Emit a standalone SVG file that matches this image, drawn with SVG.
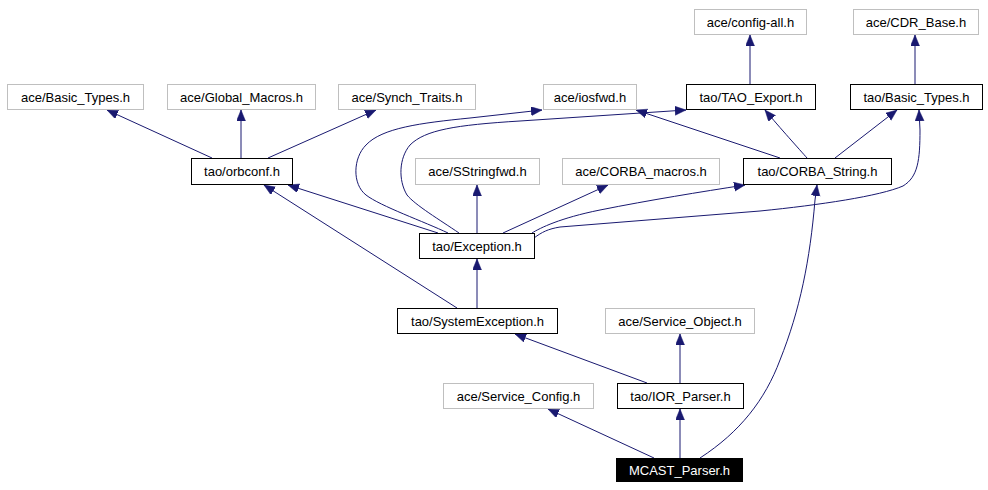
<svg xmlns="http://www.w3.org/2000/svg" width="988" height="490" viewBox="0 0 988 490">
<defs>
<marker id="arr" markerUnits="userSpaceOnUse" markerWidth="12" markerHeight="10" refX="11" refY="4.5" orient="auto">
<path d="M0,0 L11,4.5 L0,9 z" fill="#191970" stroke="#191970" stroke-width="0.5"/>
</marker>
<style>
.n rect{fill:#fff;stroke:#000;stroke-width:1}
.g rect{stroke:#bfbfbf}
.n text{font-family:"Liberation Sans",Arial,sans-serif;font-size:13px;text-anchor:middle;fill:#000}
.m rect{fill:#000;stroke:#000}
.m text{fill:#fff}
#edges path{fill:none;stroke:#191970;stroke-width:1;marker-end:url(#arr)}
</style>
</defs>
<rect width="988" height="490" fill="#fff"/>
<g id="edges">
<path d="M212,158 L107,110"/>
<path d="M241,158 L241,110"/>
<path d="M268,158 L376,110"/>
<path d="M438,233 L288,185"/>
<path d="M457,308 L264,185"/>
<path d="M448,233 C425,222 380,206 366,195 C352,184 353,158 366,145 C382,128 420,123 470,118 L542,110"/>
<path d="M459,233 C440,220 415,205 407,195 C398,180 399,158 410,145 C425,130 455,125 520,121 L686,110"/>
<path d="M477,233 L477,185"/>
<path d="M503,233 L608,185"/>
<path d="M532,233 C540,228 560,218 600,210 C650,200 700,192 745,185"/>
<path d="M534,238 C542,232 548,229 560,227 L760,211 C820,205 880,196 903,186 C918,177 920,160 920,130 L919,110"/>
<path d="M780,158 L636,110"/>
<path d="M807,158 C800,150 780,128 765,110"/>
<path d="M835,158 L897,110"/>
<path d="M750,84 L750,35"/>
<path d="M915,84 L915,35"/>
<path d="M477,308 L477,259"/>
<path d="M647,383 L515,334"/>
<path d="M680,383 L680,334"/>
<path d="M654,458 L548,409"/>
<path d="M680,458 L680,409"/>
<path d="M700,458 C740,432 765,400 780,360 C800,310 810,260 815,200 L817,185"/>
</g>
<g id="n_ace_basic_types" class="n g"><rect x="7.5" y="84.5" width="136" height="25"/><text x="75.5" y="101.5">ace/Basic_Types.h</text></g>
<g id="n_global_macros" class="n g"><rect x="167.5" y="84.5" width="148" height="25"/><text x="241.5" y="101.5">ace/Global_Macros.h</text></g>
<g id="n_synch_traits" class="n g"><rect x="338.5" y="84.5" width="137" height="25"/><text x="407" y="101.5">ace/Synch_Traits.h</text></g>
<g id="n_iosfwd" class="n g"><rect x="543.5" y="84.5" width="93" height="25"/><text x="590" y="101.5">ace/iosfwd.h</text></g>
<g id="n_tao_export" class="n"><rect x="686.5" y="84.5" width="129" height="25"/><text x="751" y="101.5">tao/TAO_Export.h</text></g>
<g id="n_tao_basic_types" class="n"><rect x="850.5" y="84.5" width="132" height="25"/><text x="916.5" y="101.5">tao/Basic_Types.h</text></g>
<g id="n_config_all" class="n g"><rect x="694.5" y="9.5" width="112" height="25"/><text x="750.5" y="26.5">ace/config-all.h</text></g>
<g id="n_cdr_base" class="n g"><rect x="853.5" y="9.5" width="125" height="25"/><text x="916" y="26.5">ace/CDR_Base.h</text></g>
<g id="n_orbconf" class="n"><rect x="191.5" y="158.5" width="101" height="26"/><text x="242" y="176">tao/orbconf.h</text></g>
<g id="n_sstringfwd" class="n g"><rect x="415.5" y="158.5" width="124" height="26"/><text x="477.5" y="176">ace/SStringfwd.h</text></g>
<g id="n_corba_macros" class="n g"><rect x="562.5" y="158.5" width="157" height="26"/><text x="641" y="176">ace/CORBA_macros.h</text></g>
<g id="n_corba_string" class="n"><rect x="743.5" y="158.5" width="148" height="26"/><text x="817.5" y="176">tao/CORBA_String.h</text></g>
<g id="n_exception" class="n"><rect x="419.5" y="233.5" width="115" height="25"/><text x="477" y="250.5">tao/Exception.h</text></g>
<g id="n_system_exception" class="n"><rect x="397.5" y="308.5" width="160" height="25"/><text x="477.5" y="325.5">tao/SystemException.h</text></g>
<g id="n_service_object" class="n g"><rect x="605.5" y="308.5" width="149" height="25"/><text x="680" y="325.5">ace/Service_Object.h</text></g>
<g id="n_service_config" class="n g"><rect x="443.5" y="383.5" width="150" height="25"/><text x="518.5" y="400.5">ace/Service_Config.h</text></g>
<g id="n_ior_parser" class="n"><rect x="617.5" y="383.5" width="126" height="25"/><text x="680.5" y="400.5">tao/IOR_Parser.h</text></g>
<g id="n_mcast_parser" class="n m"><rect x="616.5" y="458.5" width="126" height="23"/><text x="679.5" y="475">MCAST_Parser.h</text></g>
</svg>
